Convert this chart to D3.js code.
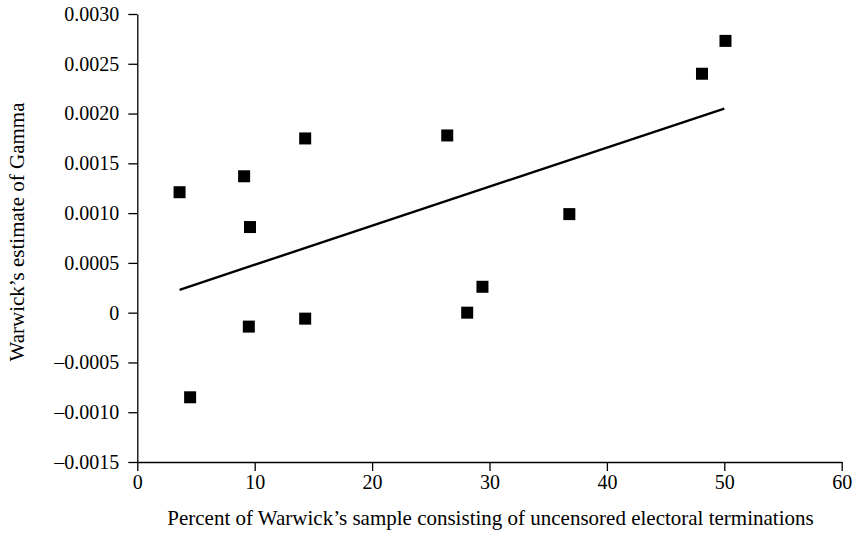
<!DOCTYPE html>
<html>
<head>
<meta charset="utf-8">
<script src="https://cdn.jsdelivr.net/npm/d3@7"></script>
<style>
  body { margin: 0; background: #fff; }
  .axis path, .axis line { stroke: #000; stroke-width: 1.3px; }
</style>
</head>
<body>
<div id="chart"></div>
<script>
// percent of sample that is uncensored electoral terminations
var pctUncensored = [3.6, 4.5, 9.1, 9.5, 9.6, 14.3, 14.3, 26.4, 28.1, 29.4, 36.8, 48.1, 50.1]
// Warwick's gamma estimates
var gammaEst = [0.00121, -0.00085, 0.00137, -0.00014, 0.00086, 0.00175, -0.00006, 0.00178, 0.0000, 0.00026, 0.00099, 0.00240, 0.00273]
// fitted line endpoints
var fitX = [3.6, 50.0]
var fitY = [0.00023, 0.00205]

var xTicks = [0, 10, 20, 30, 40, 50, 60]
var yTicks = [-0.0015, -0.0010, -0.0005, 0, 0.0005, 0.0010, 0.0015, 0.0020, 0.0025, 0.0030]

var serif = "Liberation Serif, Times New Roman, serif"

var W = 857, H = 541
var margin = {top: 14, right: 15.3, bottom: 79, left: 137.3},
    width = W - margin.left - margin.right,
    height = H - margin.top - margin.bottom;

var x = d3.scaleLinear().domain([0, 60]).range([0, width])
var y = d3.scaleLinear().domain([-0.0015, 0.0030]).range([height, 0])

var svg = d3.select("#chart").append("svg")
    .attr("width", W)
    .attr("height", H)
  .append("g")
    .attr("transform", "translate(" + margin.left + "," + margin.top + ")");

function fmtY(d) {
  if (d === 0) return "0"
  return (d < 0 ? "\u2013" : "") + Math.abs(d).toFixed(4)
}

// x axis
var gx = svg.append("g")
    .attr("class", "axis")
    .attr("transform", "translate(0," + height + ")")
    .call(d3.axisBottom(x).tickValues(xTicks).tickSize(9).tickSizeOuter(0).tickPadding(4).tickFormat(d3.format("d")))
gx.attr("font-family", serif).attr("font-size", 20)
gx.selectAll("text").attr("fill", "#000")

// y axis
var gy = svg.append("g")
    .attr("class", "axis")
    .call(d3.axisLeft(y).tickValues(yTicks).tickSize(9).tickSizeOuter(0).tickPadding(9).tickFormat(fmtY))
gy.attr("font-family", serif).attr("font-size", 20)
gy.selectAll("text").attr("fill", "#000")

// regression line
var pts = fitX.map(function(d, i) { return [d, fitY[i]] })
svg.append("path")
    .datum(pts)
    .attr("fill", "none")
    .attr("stroke", "#000")
    .attr("stroke-width", 2.4)
    .attr("d", d3.line().x(function(d) { return x(d[0]) }).y(function(d) { return y(d[1]) }))

// points
var sq = 12
svg.selectAll(".pt")
    .data(pctUncensored)
    .enter()
    .append("rect")
    .attr("class", "pt")
    .attr("x", function(d) { return x(d) - sq / 2 })
    .attr("y", function(d, i) { return y(gammaEst[i]) - sq / 2 })
    .attr("width", sq)
    .attr("height", sq)
    .attr("fill", "#000")

// axis labels
svg.append("text")
    .attr("x", width / 2 + 1)
    .attr("y", height + 63)
    .attr("font-family", serif)
    .attr("font-size", 21)
    .style("text-anchor", "middle")
    .text("Percent of Warwick\u2019s sample consisting of uncensored electoral terminations")

svg.append("text")
    .attr("transform", "rotate(-90)")
    .attr("x", -(232 - margin.top))
    .attr("y", -margin.left + 24)
    .attr("font-family", serif)
    .attr("font-size", 21)
    .style("text-anchor", "middle")
    .text("Warwick\u2019s estimate of Gamma")
</script>
</body>
</html>
